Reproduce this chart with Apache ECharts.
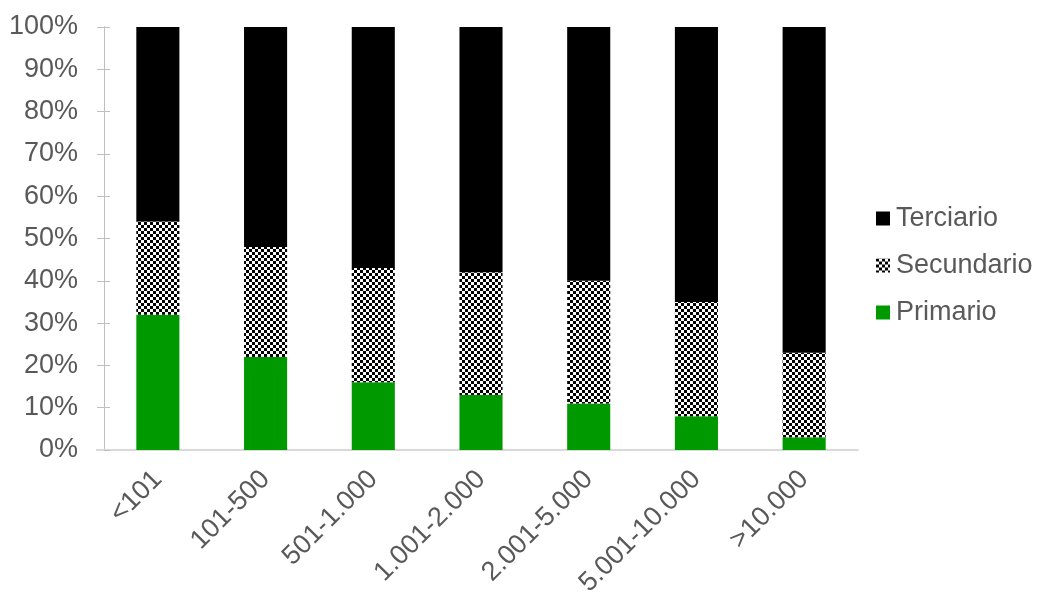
<!DOCTYPE html>
<html>
<head>
<meta charset="utf-8">
<script src="https://cdn.jsdelivr.net/npm/echarts@6/dist/echarts.min.js"></script>
<style>
  html, body { margin: 0; padding: 0; background: #ffffff; }
  #chart { width: 1040px; height: 594px; }
</style>
</head>
<body>
<div id="chart"></div>
<script>
// Population-size bands and sector shares (%)
var categories = ['<101', '101-500', '501-1.000', '1.001-2.000', '2.001-5.000', '5.001-10.000', '>10.000'];
var primario   = [32, 22, 16, 13, 11, 8, 3];
var secundario = [22, 26, 27, 29, 29, 27, 20];
var terciario  = [46, 52, 57, 58, 60, 65, 77];
var yTicks = [0, 10, 20, 30, 40, 50, 60, 70, 80, 90, 100];

// Checkerboard fill for the secondary sector
function checker() {
  var s = 3;
  var c = document.createElement('canvas');
  c.width = 2 * s; c.height = 2 * s;
  var g = c.getContext('2d');
  g.fillStyle = '#ffffff'; g.fillRect(0, 0, 2 * s, 2 * s);
  g.fillStyle = '#000000';
  g.fillRect(0, 0, s, s);
  g.fillRect(s, s, s, s);
  return { image: c, repeat: 'repeat' };
}

var font = 'Liberation Sans, Arial, sans-serif';
var textColor = '#595959';
var axisColor = '#bfbfbf';
var gridLeft = 104;
var chart = echarts.init(document.getElementById('chart'), null, { renderer: 'canvas' });

var yBase = {
  type: 'value', min: yTicks[0], max: yTicks[yTicks.length - 1], interval: 10,
  splitLine: { show: false },
  axisLine: { show: true, lineStyle: { color: axisColor, width: 1 } }
};

chart.setOption({
  animation: false,
  textStyle: { fontFamily: font },
  grid: { left: gridLeft, right: 182, top: 27, bottom: 144, containLabel: false, outerBoundsMode: 'none' },
  legend: {
    orient: 'vertical', left: 871, top: 200,
    itemWidth: 14, itemHeight: 14, itemGap: 20,
    icon: 'rect',
    textStyle: { fontFamily: font, fontSize: 27, color: textColor, padding: [0, 0, 0, 1] },
    data: ['Terciario', 'Secundario', 'Primario']
  },
  xAxis: {
    type: 'category', data: categories,
    axisLine: { show: true, lineStyle: { color: '#d9d9d9', width: 2 } },
    axisTick: { show: false },
    axisLabel: { rotate: 45, fontSize: 27, color: textColor, fontFamily: font, margin: 25, interval: 0 }
  },
  yAxis: [
    Object.assign({}, yBase, {
      axisTick: { show: true, length: 7, lineStyle: { color: axisColor } },
      axisLabel: {
        fontSize: 27, color: textColor, fontFamily: font, margin: 26,
        formatter: function (v) { return v + '%'; }
      }
    }),
    Object.assign({}, yBase, {
      position: 'left',
      axisTick: { show: true, inside: true, length: 6, lineStyle: { color: axisColor } },
      axisLabel: { show: false }
    })
  ],
  series: [
    { name: 'Primario', type: 'bar', stack: 's', barWidth: '40%', data: primario,
      itemStyle: { color: '#009900' } },
    { name: 'Secundario', type: 'bar', stack: 's', barWidth: '40%', data: secundario,
      itemStyle: { color: checker() } },
    { name: 'Terciario', type: 'bar', stack: 's', barWidth: '40%', data: terciario,
      itemStyle: { color: '#000000' } }
  ]
});

// Short stub of the category axis line reaching left past the value axis
var baseY = chart.convertToPixel({ yAxisIndex: 0 }, 0);
chart.setOption({
  graphic: [{
    type: 'line', silent: true, z: 10,
    shape: { x1: gridLeft - 8, y1: baseY, x2: gridLeft, y2: baseY },
    style: { stroke: '#d9d9d9', lineWidth: 2 }
  }]
});
</script>
</body>
</html>
